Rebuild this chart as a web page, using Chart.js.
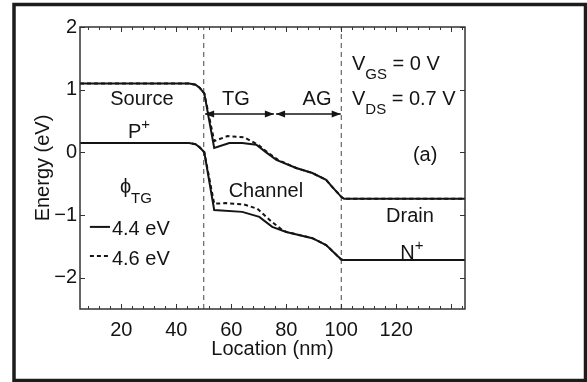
<!DOCTYPE html>
<html>
<head>
<meta charset="utf-8">
<script src="https://cdn.jsdelivr.net/npm/chart.js@4.4.1/dist/chart.umd.min.js"></script>
<style>
body{margin:0;background:#fff}
canvas{display:block}
</style>
</head>
<body>
<canvas id="bands" width="587" height="382"></canvas>
<script>

// bandes
const xTicks = [20,40,60,80,100,120]
const yTicks = [-2,-1,0,1,2]
const gateEdges = [50,100]

const cbX44 = [5,44.7,47,48.5,50.2,53.8,59.3,64,69.1,72.7,76.4,83.6,89.5,94.5,96.7,100,101,145]
const cbY44 = [1.10,1.10,1.08,1.03,0.94,0.07,0.15,0.15,0.12,0.00,-0.12,-0.25,-0.33,-0.44,-0.55,-0.71,-0.74,-0.74]

const cbX46 = [5,44.7,47,48.5,50.2,53.8,58.7,64.7,69.8,73.5,77,83.6,89.5,94.5,96.7,100,101,145]
const cbY46 = [1.10,1.10,1.08,1.03,0.94,0.18,0.26,0.24,0.12,-0.01,-0.12,-0.25,-0.33,-0.44,-0.55,-0.71,-0.74,-0.74]

const vbX44 = [5,44.7,47,48.5,50.2,53.8,64,70.2,74.9,80,89.5,94.5,100,101,145]
const vbY44 = [0.15,0.15,0.13,0.08,0.00,-0.92,-0.95,-1.03,-1.19,-1.27,-1.37,-1.48,-1.71,-1.72,-1.72]

const vbX46 = [5,44.7,47,48.5,50.2,53.8,58,64.5,69.5,74.5,78,80,89.5,94.5,100,101,145]
const vbY46 = [0.15,0.15,0.13,0.08,0.00,-0.82,-0.81,-0.83,-0.90,-1.10,-1.22,-1.27,-1.37,-1.48,-1.71,-1.72,-1.72]

const FONT = '"Liberation Sans", Arial, sans-serif'
const INK = '#141414'

function pts(xs,ys){
return xs.map((x,i)=>({x:x,y:ys[i]}))
}

function rich(ctx,x,y,parts,align){
let w = 0
parts.forEach(p=>{
ctx.font = p[1]+'px '+FONT
w += ctx.measureText(p[0]).width
})
let cx = align==='center' ? x-w/2 : x
parts.forEach(p=>{
ctx.font = p[1]+'px '+FONT
ctx.fillText(p[0],cx,y+(p[2]||0))
cx += ctx.measureText(p[0]).width
})
}

function arrowHead(ctx,x,y,dir){
ctx.beginPath()
ctx.moveTo(x,y)
ctx.lineTo(x-dir*9,y-3.5)
ctx.lineTo(x-dir*9,y+3.5)
ctx.closePath()
ctx.fill()
}

const decor = {
id:'decor',
afterDraw(chart){
const ctx = chart.ctx
const xs = chart.scales.x
const ys = chart.scales.y
const a = chart.chartArea
const px = v=>xs.getPixelForValue(v)
const py = v=>ys.getPixelForValue(v)

ctx.save()

// cadre de l'axe
ctx.strokeStyle = '#333'
ctx.lineWidth = 1.5
ctx.strokeRect(a.left,a.top,a.right-a.left,a.bottom-a.top)

// graduations vers l'intérieur
ctx.lineWidth = 1
ctx.beginPath()
for(let v=8; v<145; v+=4){
let len = v%20===0 ? 5 : 3
let X = Math.round(px(v))+0.5
ctx.moveTo(X,a.bottom); ctx.lineTo(X,a.bottom-len)
ctx.moveTo(X,a.top); ctx.lineTo(X,a.top+len)
}
yTicks.forEach(v=>{
let Y = Math.round(py(v))+0.5
ctx.moveTo(a.left,Y); ctx.lineTo(a.left+5,Y)
ctx.moveTo(a.right,Y); ctx.lineTo(a.right-5,Y)
})
ctx.stroke()

// flèches TG / AG
ctx.strokeStyle = INK
ctx.fillStyle = INK
ctx.lineWidth = 1.5
let ay = py(0.61)
;[[50.5,75.5],[76.3,99.8]].forEach(s=>{
let x1 = px(s[0]), x2 = px(s[1])
ctx.beginPath()
ctx.moveTo(x1,ay); ctx.lineTo(x2,ay)
ctx.stroke()
arrowHead(ctx,x1,ay,-1)
arrowHead(ctx,x2,ay,1)
})

// légende
ctx.lineWidth = 2
ctx.beginPath()
ctx.moveTo(px(8.6),py(-1.19)); ctx.lineTo(px(15.9),py(-1.19))
ctx.stroke()
ctx.setLineDash([4,3])
ctx.beginPath()
ctx.moveTo(px(8.6),py(-1.654)); ctx.lineTo(px(15.9),py(-1.654))
ctx.stroke()
ctx.setLineDash([])

// textes
ctx.textBaseline = 'alphabetic'
ctx.textAlign = 'left'
rich(ctx,px(27.5),py(0.755),[['Source',20]],'center')
rich(ctx,px(22.45),py(0.229),[['P',20],['+',15,-9]])
rich(ctx,px(19.5),py(-0.649),[['ϕ',20],['TG',15,10]])
rich(ctx,px(16.6),py(-1.32),[['4.4 eV',20]])
rich(ctx,px(16.6),py(-1.80),[['4.6 eV',20]])
rich(ctx,px(72.6),py(-0.71),[['Channel',20]],'center')
rich(ctx,px(61.7),py(0.755),[['TG',20]],'center')
rich(ctx,px(91.2),py(0.755),[['AG',20]],'center')
rich(ctx,px(103.9),py(1.314),[['V',20],['GS',15,9],[' = 0 V',20]])
rich(ctx,px(103.9),py(0.755),[['V',20],['DS',15,9],[' = 0.7 V',20]])
rich(ctx,px(130.5),py(-0.138),[['(a)',20]],'center')
rich(ctx,px(125),py(-1.11),[['Drain',20]],'center')
rich(ctx,px(125.7),py(-1.70),[['N',20],['+',15,-9]],'center')

// cadre extérieur
ctx.strokeStyle = '#1c1c1c'
ctx.lineWidth = 3.5
ctx.strokeRect(14,4.5,571.5,376)

ctx.restore()
}
}

const lineSet = (data,dash,w,color)=>({
data:data,
showLine:true,
pointRadius:0,
borderColor:color||INK,
borderWidth:w,
borderDash:dash,
fill:false,
tension:0
})

const datasets = [
lineSet(pts(cbX44,cbY44),[],2),
lineSet(pts(vbX44,vbY44),[],2),
lineSet(pts(cbX46,cbY46),[4,3],2),
lineSet(pts(vbX46,vbY46),[4,3],2)
]
gateEdges.forEach(g=>{
datasets.push(lineSet([{x:g,y:-2.5},{x:g,y:2}],[5,4],1,'#444'))
})

new Chart(document.getElementById('bands'),{
type:'scatter',
data:{datasets:datasets},
options:{
responsive:false,
animation:false,
devicePixelRatio:1,
layout:{padding:{left:0,right:122,top:27,bottom:0}},
plugins:{legend:{display:false},tooltip:{enabled:false}},
scales:{
x:{
type:'linear',min:5,max:145,
grid:{display:false,drawTicks:false},
border:{display:false},
afterBuildTicks:s=>{s.ticks = xTicks.map(v=>({value:v}))},
afterFit:s=>{s.height = 73},
ticks:{font:{family:FONT,size:20},color:INK,padding:9,maxRotation:0,autoSkip:false},
title:{display:true,text:'Location (nm)',font:{family:FONT,size:20},color:INK,padding:{top:0,bottom:21}}
},
y:{
type:'linear',min:-2.5,max:2,
grid:{display:false,drawTicks:false},
border:{display:false},
afterBuildTicks:s=>{s.ticks = yTicks.map(v=>({value:v}))},
afterFit:s=>{s.width = 80},
ticks:{font:{family:FONT,size:20},color:INK,padding:3,callback:v=>v<0 ? '\u2212'+Math.abs(v) : v},
title:{display:true,text:'Energy (eV)',font:{family:FONT,size:20},color:INK,padding:{top:31,bottom:0}}
}
}
},
plugins:[decor]
})

</script>
</body>
</html>
